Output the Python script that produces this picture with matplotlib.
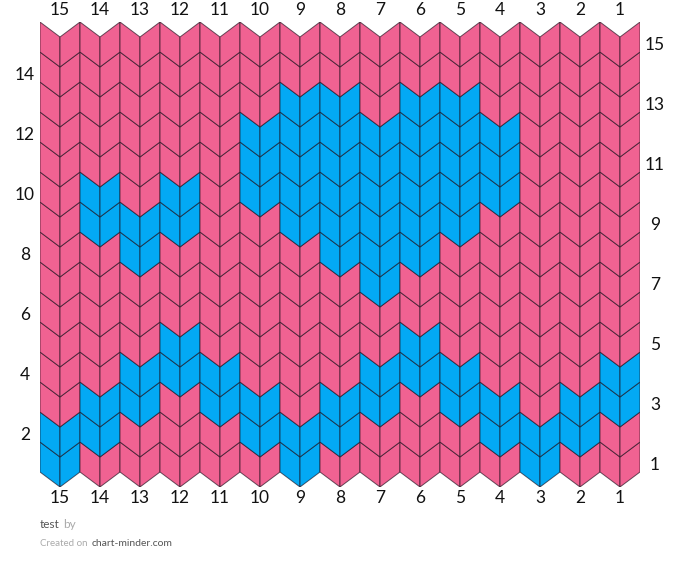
import matplotlib
matplotlib.use('Agg')
import matplotlib.pyplot as plt
from matplotlib.patches import Polygon

plt.rcParams['font.family'] = ['Lato', 'DejaVu Sans']

# chart size
n_cols = 15
n_rows = 15

# column labels, left to right
col_labels = [15, 14, 13, 12, 11, 10, 9, 8, 7, 6, 5, 4, 3, 2, 1]

# blue stitches per row (row number -> column numbers)
blue_rows = {
    1: [15, 9, 3],
    2: [15, 14, 10, 9, 8, 4, 3, 2],
    3: [14, 13, 11, 10, 8, 7, 5, 4, 2, 1],
    4: [13, 12, 11, 7, 6, 5, 1],
    5: [12, 6],
    7: [7],
    8: [13, 8, 7, 6],
    9: [14, 13, 12, 9, 8, 7, 6, 5],
    10: [14, 12, 10, 9, 8, 7, 6, 5, 4],
    11: [10, 9, 8, 7, 6, 5, 4],
    12: [10, 9, 8, 7, 6, 5, 4],
    13: [9, 8, 6, 5],
}

pink = '#f06292'
blue = '#03a9f4'
edge = (0.1, 0.05, 0.1, 0.65)

fig = plt.figure(figsize=(6.8, 5.73), dpi=100)
# grid spans x 40..640 px, y 22..487 px
ax = fig.add_axes([40 / 680, (573 - 487) / 573, 600 / 680, 465 / 573])
ax.set_xlim(0, n_cols)
ax.set_ylim(-0.5, n_rows)
ax.axis('off')

d = 0.5  # depth of the V
for r in range(1, n_rows + 1):
    blues = blue_rows.get(r, [])
    for c, lab in enumerate(col_labels):
        color = blue if lab in blues else pink
        y0 = r - 1
        left = [(c, y0), (c + 0.5, y0 - d), (c + 0.5, y0 + 1 - d), (c, y0 + 1)]
        right = [(c + 0.5, y0 - d), (c + 1, y0), (c + 1, y0 + 1), (c + 0.5, y0 + 1 - d)]
        for pts in (left, right):
            ax.add_patch(Polygon(pts, closed=True, facecolor=color, edgecolor=edge,
                                 linewidth=0.7, joinstyle='miter'))

for c, lab in enumerate(col_labels):
    ax.text(c + 0.5, 15.4, str(lab), ha='center', va='center', fontsize=12.5,
            color='#111111', clip_on=False)
    ax.text(c + 0.5, -0.87, str(lab), ha='center', va='center', fontsize=12.5,
            color='#111111', clip_on=False)

for r in range(1, n_rows + 1):
    if r % 2 == 0:
        ax.text(-0.375, r - 0.75, str(r), ha='center', va='center', fontsize=12.5,
                color='#111111', clip_on=False)
    else:
        ax.text(15.375, r - 0.75, str(r), ha='center', va='center', fontsize=12.5,
                color='#111111', clip_on=False)

# footer
fig.text(40 / 680, 1 - 524 / 573, 'test', fontsize=8.5, color='#555555', va='center')
fig.text(63 / 680, 1 - 524 / 573, 'by', fontsize=8.5, color='#aaaaaa', va='center')
fig.text(40 / 680, 1 - 543 / 573, 'Created on', fontsize=7, color='#aaaaaa', va='center')
fig.text(92 / 680, 1 - 543 / 573, 'chart-minder.com', fontsize=7.5, color='#555555',
         va='center')

fig.savefig('out.png', dpi=100, facecolor='white')
